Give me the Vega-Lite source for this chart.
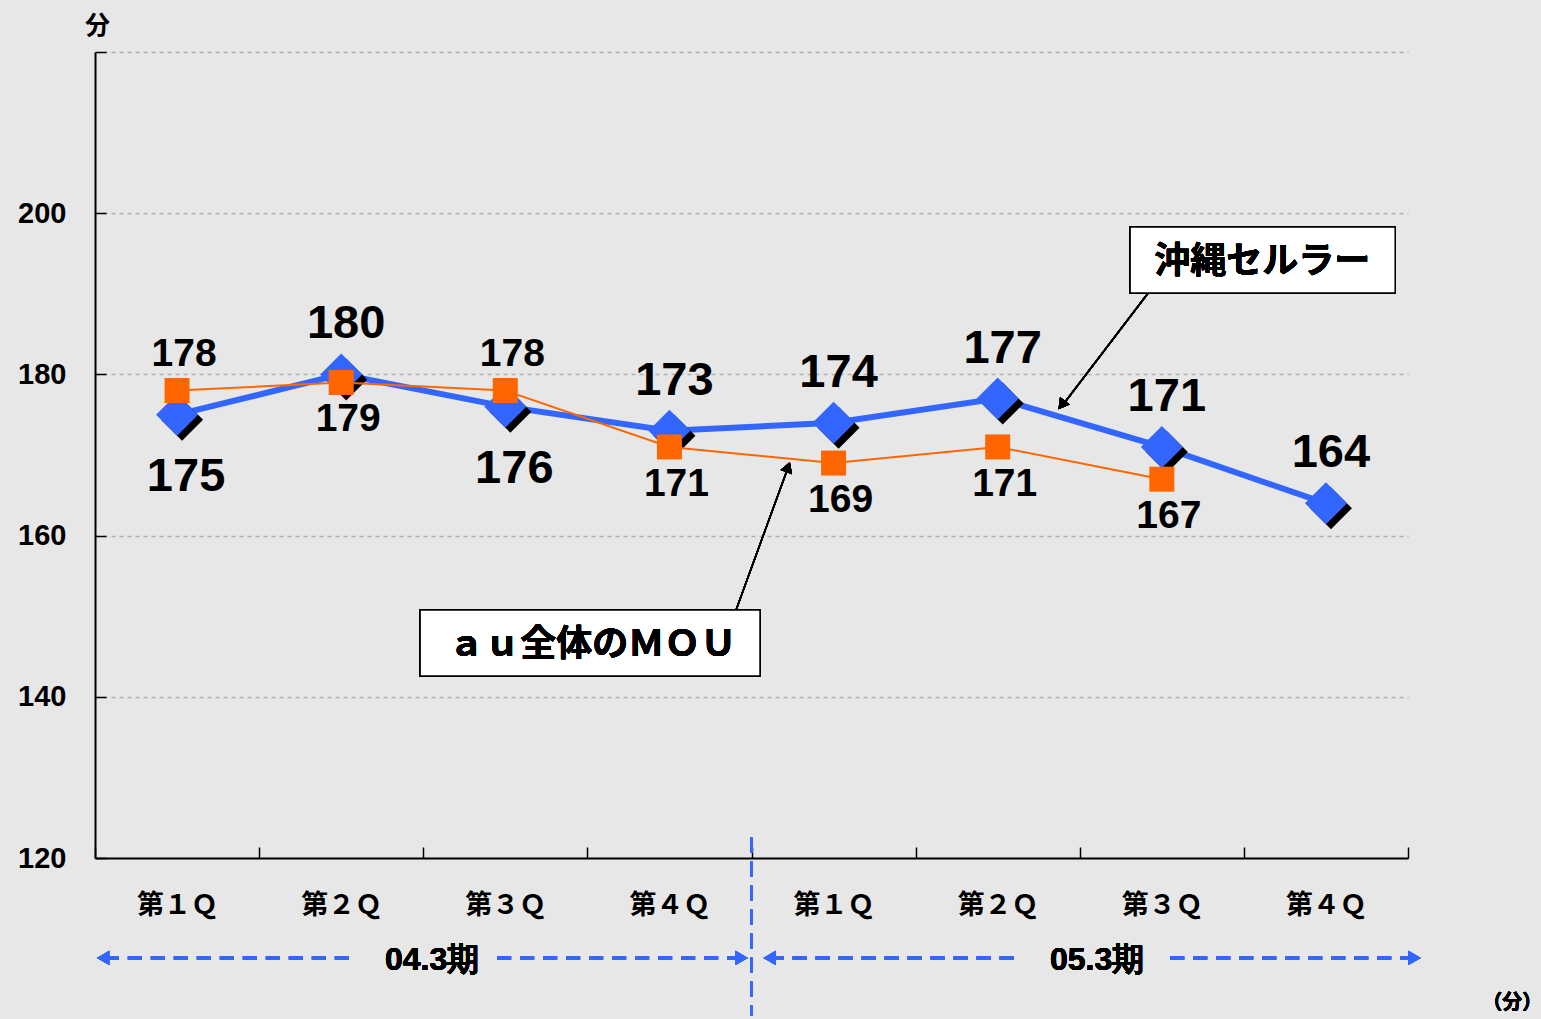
{
  "$schema": "https://vega.github.io/schema/vega-lite/v6.json",
  "width": 1313,
  "height": 806,
  "autosize": {"type": "none"},
  "padding": {"left": 95, "top": 52, "right": 133, "bottom": 161},
  "background": "#e7e7e7",
  "config": {
    "view": {"stroke": null},
    "font": "Noto Sans CJK JP",
    "axisX": {"grid": false, "domainColor": "#000", "domainWidth": 2, "tickColor": "#000", "tickWidth": 1.5, "tickSize": -11,
      "labelFont": "Noto Sans CJK JP", "labelFontSize": 27, "labelFontWeight": "bold", "labelColor": "#000",
      "labelPadding": 45, "labelBound": false, "labelOverlap": false, "labelFlush": false},
    "axisY": {"grid": true, "gridColor": "#b0b0b0", "gridDash": [4, 4], "gridWidth": 1.5,
      "domainColor": "#000", "domainWidth": 2, "tickColor": "#000", "tickWidth": 1.5, "tickSize": -11,
      "labelFont": "Liberation Sans", "labelFontSize": 29, "labelFontWeight": "bold", "labelColor": "#000", "labelPadding": 40,
      "titleAngle": 0, "titleFont": "Noto Sans CJK JP", "titleFontSize": 25, "titleFontWeight": "bold", "titleColor": "#000"}
  },
  "data": {
    "values": [
      {"idx": 1, "period": "04.3期", "quarter": "第１Ｑ", "okinawa": 175, "au": 178, "okiPos": "below", "auPos": "above"},
      {"idx": 2, "period": "04.3期", "quarter": "第２Ｑ", "okinawa": 180, "au": 179, "okiPos": "above", "auPos": "below"},
      {"idx": 3, "period": "04.3期", "quarter": "第３Ｑ", "okinawa": 176, "au": 178, "okiPos": "below", "auPos": "above"},
      {"idx": 4, "period": "04.3期", "quarter": "第４Ｑ", "okinawa": 173, "au": 171, "okiPos": "above", "auPos": "below"},
      {"idx": 5, "period": "05.3期", "quarter": "第１Ｑ", "okinawa": 174, "au": 169, "okiPos": "above", "auPos": "below"},
      {"idx": 6, "period": "05.3期", "quarter": "第２Ｑ", "okinawa": 177, "au": 171, "okiPos": "above", "auPos": "below"},
      {"idx": 7, "period": "05.3期", "quarter": "第３Ｑ", "okinawa": 171, "au": 167, "okiPos": "above", "auPos": "below"},
      {"idx": 8, "period": "05.3期", "quarter": "第４Ｑ", "okinawa": 164, "au": null, "okiPos": "above", "auPos": "below"}
    ]
  },
  "layer": [
    {
      "mark": {"type": "line", "color": "#3366ff", "strokeWidth": 6},
      "encoding": {
        "x": {"field": "idx", "type": "quantitative", "title": null, "scale": {"domain": [0.5, 8.5], "nice": false, "zero": false},
          "axis": {"values": [0.5, 1.5, 2.5, 3.5, 4.5, 5.5, 6.5, 7.5, 8.5], "title": null, "labelOffset": 82,
            "labelExpr": "datum.value > 8 ? '' : ['第１Ｑ','第２Ｑ','第３Ｑ','第４Ｑ'][(round(datum.value + 0.5) - 1) % 4]"}},
        "y": {"field": "okinawa", "type": "quantitative", "title": "分", "scale": {"domain": [120, 220], "nice": false, "zero": false},
          "axis": {"values": [120, 140, 160, 180, 200, 220], "title": "分", "titleX": 2, "titleY": -27,
            "titleAlign": "center", "titleBaseline": "middle",
            "labelExpr": "datum.value == 220 ? '' : datum.label"}}
      }
    },
    {
      "mark": {"type": "point", "shape": "diamond", "filled": true, "color": "#000", "size": 1764, "opacity": 1, "xOffset": 5, "yOffset": 5},
      "encoding": {
        "x": {"field": "idx", "type": "quantitative", "title": null},
        "y": {"field": "okinawa", "type": "quantitative", "title": "分"}
      }
    },
    {
      "mark": {"type": "point", "shape": "diamond", "filled": true, "color": "#3366ff", "size": 1764, "opacity": 1},
      "encoding": {
        "x": {"field": "idx", "type": "quantitative", "title": null},
        "y": {"field": "okinawa", "type": "quantitative", "title": "分"}
      }
    },
    {
      "transform": [{"filter": "datum.au != null"}],
      "mark": {"type": "line", "color": "#ff6600", "strokeWidth": 2},
      "encoding": {
        "x": {"field": "idx", "type": "quantitative", "title": null},
        "y": {"field": "au", "type": "quantitative", "title": "分"}
      }
    },
    {
      "transform": [{"filter": "datum.au != null"}],
      "mark": {"type": "point", "shape": "square", "filled": true, "color": "#ff6600", "size": 625, "opacity": 1},
      "encoding": {
        "x": {"field": "idx", "type": "quantitative", "title": null},
        "y": {"field": "au", "type": "quantitative", "title": "分"}
      }
    },
    {
      "transform": [{"filter": "datum.okiPos == 'above'"}],
      "mark": {"type": "text", "font": "Liberation Sans", "fontSize": 47, "fontWeight": "bold", "color": "#000", "dx": 5, "dy": -50, "baseline": "middle", "align": "center"},
      "encoding": {
        "x": {"field": "idx", "type": "quantitative", "title": null},
        "y": {"field": "okinawa", "type": "quantitative", "title": "分"},
        "text": {"field": "okinawa"}
      }
    },
    {
      "transform": [{"filter": "datum.okiPos == 'below'"}],
      "mark": {"type": "text", "font": "Liberation Sans", "fontSize": 47, "fontWeight": "bold", "color": "#000", "dx": 9, "dy": 62, "baseline": "middle", "align": "center"},
      "encoding": {
        "x": {"field": "idx", "type": "quantitative", "title": null},
        "y": {"field": "okinawa", "type": "quantitative", "title": "分"},
        "text": {"field": "okinawa"}
      }
    },
    {
      "transform": [{"filter": "datum.au != null && datum.auPos == 'above'"}],
      "mark": {"type": "text", "font": "Liberation Sans", "fontSize": 39, "fontWeight": "bold", "color": "#000", "dx": 7, "dy": -37, "baseline": "middle", "align": "center"},
      "encoding": {
        "x": {"field": "idx", "type": "quantitative", "title": null},
        "y": {"field": "au", "type": "quantitative", "title": "分"},
        "text": {"field": "au"}
      }
    },
    {
      "transform": [{"filter": "datum.au != null && datum.auPos == 'below'"}],
      "mark": {"type": "text", "font": "Liberation Sans", "fontSize": 39, "fontWeight": "bold", "color": "#000", "dx": 7, "dy": 37, "baseline": "middle", "align": "center"},
      "encoding": {
        "x": {"field": "idx", "type": "quantitative", "title": null},
        "y": {"field": "au", "type": "quantitative", "title": "分"},
        "text": {"field": "au"}
      }
    },
    {
      "mark": {"type": "rule", "color": "#000", "strokeWidth": 1.5},
      "encoding": {
        "x": {"datum": 6.917, "type": "quantitative"},
        "y": {"datum": 190.1, "type": "quantitative"},
        "x2": {"datum": 6.40},
        "y2": {"datum": 176.3}
      }
    },
    {
      "mark": {"type": "point", "shape": "triangle-up", "filled": true, "color": "#000", "size": 150, "opacity": 1, "angle": 217},
      "encoding": {
        "x": {"datum": 6.39, "type": "quantitative"},
        "y": {"datum": 176.2, "type": "quantitative"}
      }
    },
    {
      "mark": {"type": "rule", "color": "#000", "strokeWidth": 1.5},
      "encoding": {
        "x": {"datum": 4.406, "type": "quantitative"},
        "y": {"datum": 150.77, "type": "quantitative"},
        "x2": {"datum": 4.72},
        "y2": {"datum": 168.3}
      }
    },
    {
      "mark": {"type": "point", "shape": "triangle-up", "filled": true, "color": "#000", "size": 150, "opacity": 1, "angle": 20},
      "encoding": {
        "x": {"datum": 4.723, "type": "quantitative"},
        "y": {"datum": 168.5, "type": "quantitative"}
      }
    },
    {
      "mark": {"type": "rect", "fill": "#ffffff", "stroke": "#000", "strokeWidth": 1.5},
      "encoding": {
        "x": {"datum": 6.807, "type": "quantitative"},
        "x2": {"datum": 8.422},
        "y": {"datum": 198.29, "type": "quantitative"},
        "y2": {"datum": 190.1}
      }
    },
    {
      "mark": {"type": "text", "text": "沖縄セルラー", "font": "Noto Sans CJK JP", "fontSize": 36, "fontWeight": "bold", "color": "#000", "baseline": "middle", "align": "center"},
      "encoding": {
        "x": {"datum": 7.612, "type": "quantitative"},
        "y": {"datum": 193.95, "type": "quantitative"}
      }
    },
    {
      "mark": {"type": "rect", "fill": "#ffffff", "stroke": "#000", "strokeWidth": 1.5},
      "encoding": {
        "x": {"datum": 2.481, "type": "quantitative"},
        "x2": {"datum": 4.552},
        "y": {"datum": 150.77, "type": "quantitative"},
        "y2": {"datum": 142.58}
      }
    },
    {
      "mark": {"type": "text", "text": "ａｕ全体のＭＯＵ", "font": "Noto Sans CJK JP", "fontSize": 36, "fontWeight": "bold", "color": "#000", "baseline": "middle", "align": "center"},
      "encoding": {
        "x": {"datum": 3.529, "type": "quantitative"},
        "y": {"datum": 146.43, "type": "quantitative"}
      }
    },
    {
      "mark": {"type": "rule", "color": "#3366ff", "strokeWidth": 3, "strokeDash": [15, 9]},
      "encoding": {
        "x": {"datum": 4.5, "type": "quantitative"},
        "y": {"datum": 122.5, "type": "quantitative"},
        "y2": {"datum": 100.5}
      }
    },
    {
      "mark": {"type": "rule", "color": "#3366ff", "strokeWidth": 3, "strokeDash": [14, 9]},
      "encoding": {
        "x": {"datum": 0.56, "type": "quantitative"},
        "x2": {"datum": 2.066},
        "y": {"datum": 107.6, "type": "quantitative"}
      }
    },
    {
      "mark": {"type": "rule", "color": "#3366ff", "strokeWidth": 3, "strokeDash": [14, 9]},
      "encoding": {
        "x": {"datum": 2.95, "type": "quantitative"},
        "x2": {"datum": 4.44},
        "y": {"datum": 107.6, "type": "quantitative"}
      }
    },
    {
      "mark": {"type": "rule", "color": "#3366ff", "strokeWidth": 3, "strokeDash": [14, 9]},
      "encoding": {
        "x": {"datum": 4.61, "type": "quantitative"},
        "x2": {"datum": 6.125},
        "y": {"datum": 107.6, "type": "quantitative"}
      }
    },
    {
      "mark": {"type": "rule", "color": "#3366ff", "strokeWidth": 3, "strokeDash": [14, 9]},
      "encoding": {
        "x": {"datum": 7.051, "type": "quantitative"},
        "x2": {"datum": 8.54},
        "y": {"datum": 107.6, "type": "quantitative"}
      }
    },
    {
      "mark": {"type": "point", "shape": "triangle-left", "filled": true, "color": "#3366ff", "size": 200, "opacity": 1},
      "encoding": {
        "x": {"datum": 0.55, "type": "quantitative"},
        "y": {"datum": 107.6, "type": "quantitative"}
      }
    },
    {
      "mark": {"type": "point", "shape": "triangle-right", "filled": true, "color": "#3366ff", "size": 200, "opacity": 1},
      "encoding": {
        "x": {"datum": 4.44, "type": "quantitative"},
        "y": {"datum": 107.6, "type": "quantitative"}
      }
    },
    {
      "mark": {"type": "point", "shape": "triangle-left", "filled": true, "color": "#3366ff", "size": 200, "opacity": 1},
      "encoding": {
        "x": {"datum": 4.61, "type": "quantitative"},
        "y": {"datum": 107.6, "type": "quantitative"}
      }
    },
    {
      "mark": {"type": "point", "shape": "triangle-right", "filled": true, "color": "#3366ff", "size": 200, "opacity": 1},
      "encoding": {
        "x": {"datum": 8.54, "type": "quantitative"},
        "y": {"datum": 107.6, "type": "quantitative"}
      }
    },
    {
      "mark": {"type": "text", "text": "04.3期", "font": "Liberation Sans", "fontSize": 32, "fontWeight": "bold", "color": "#000", "baseline": "middle", "align": "center"},
      "encoding": {
        "x": {"datum": 2.554, "type": "quantitative"},
        "y": {"datum": 107.4, "type": "quantitative"}
      }
    },
    {
      "mark": {"type": "text", "text": "05.3期", "font": "Liberation Sans", "fontSize": 32, "fontWeight": "bold", "color": "#000", "baseline": "middle", "align": "center"},
      "encoding": {
        "x": {"datum": 6.606, "type": "quantitative"},
        "y": {"datum": 107.4, "type": "quantitative"}
      }
    },
    {
      "mark": {"type": "text", "text": "（分）", "font": "Noto Sans CJK JP", "fontSize": 20, "fontWeight": "bold", "color": "#000", "baseline": "middle", "align": "center"},
      "encoding": {
        "x": {"datum": 9.135, "type": "quantitative"},
        "y": {"datum": 102, "type": "quantitative"}
      }
    }
  ]
}
